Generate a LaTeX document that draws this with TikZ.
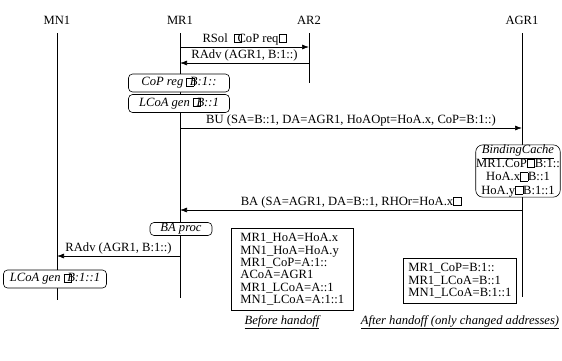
\documentclass[tikz,border=0pt]{standalone}
\usepackage{fontspec}
\setmainfont{Liberation Serif}
\usetikzlibrary{positioning,arrows.meta}
\newcommand{\gapbox}{{\fboxsep0pt\fboxrule0.5pt\fbox{\rule{0pt}{0.62em}\hspace{0.55em}}}}
\newcommand{\ul}[1]{\underline{#1}}

\begin{document}
\begin{tikzpicture}[x=1pt,y=-1pt,
  every node/.style={font=\fontsize{12.6}{12.6}\selectfont,inner sep=1pt},
  entity/.style={anchor=base},
  life/.style={line width=0.7pt},
  msg/.style={line width=0.7pt,-{Latex[length=7pt,width=5pt]}},
  msglabel/.style={above,inner sep=1.5pt},
  action/.style={rectangle,rounded corners=4pt,draw,line width=0.6pt,fill=white,
                 font=\fontsize{12.6}{12.6}\selectfont\itshape,minimum height=18pt,inner sep=1pt},
  table/.style={rectangle,draw,line width=0.6pt,align=left,inner sep=5pt,
                font=\fontsize{12.6}{12.4}\selectfont},
  caption/.style={font=\fontsize{12.6}{12.6}\selectfont\itshape}
]
\useasboundingbox (0,0) rectangle (562,360);

% entities
\node[entity] (mn1)  at (57,24)  {MN1};
\node[entity] (mr1)  at (180,24) {MR1};
\node[entity] (ar2)  at (309,24) {AR2};
\node[entity] (agr1) at (522,24) {AGR1};

% lifelines
\coordinate (mn1top)  at (57,33);  \coordinate (mn1end)  at (57,300);
\coordinate (mr1top)  at (180,33); \coordinate (mr1end)  at (180,298);
\coordinate (ar2top)  at (309,33); \coordinate (ar2end)  at (309,83);
\coordinate (agr1top) at (522,33); \coordinate (agr1end) at (522,297);
\draw[life] (mn1top) -- (mn1end);
\draw[life] (mr1top) -- (mr1end);
\draw[life] (ar2top) -- (ar2end);
\draw[life] (agr1top) -- (agr1end);

% router solicitation / advertisement
\coordinate (rsolA) at (180,47);  \coordinate (rsolB) at (309,47);
\draw[msg] (rsolA) -- node[msglabel]{RSol \ \gapbox\kern-.35em CoP req\gapbox} (rsolB);
\coordinate (radvA) at (309,63);  \coordinate (radvB) at (180,63);
\draw[msg] (radvA) -- node[msglabel]{RAdv (AGR1, B:1::)} (radvB);

% actions at MR1
\node[action,minimum width=101pt] (copreg) at (179,83)  {CoP reg \gapbox\kern-.35em B:1::};
\node[action,minimum width=101pt] (lcoagen) at (179,103.5) {LCoA gen \gapbox\kern-.35em B::1};

% binding update
\coordinate (buA) at (180,128); \coordinate (buB) at (522,128);
\draw[msg] (buA) -- node[msglabel]{BU (SA=B::1, DA=AGR1, HoAOpt=HoA.x, CoP=B:1::)} (buB);

% binding cache
\node[action,font=\fontsize{12.6}{13.4}\selectfont,align=center,rounded corners=7pt,inner sep=0.3pt]
  (cache) at (518,171) {\textit{\ul{BindingCache}}\\MR1.CoP\gapbox B:1::\\HoA.x\gapbox B::1\\HoA.y\gapbox B:1::1};

% binding acknowledgement
\coordinate (baA) at (522,210); \coordinate (baB) at (180,210);
\draw[msg] (baA) -- node[msglabel]{BA (SA=AGR1, DA=B::1, RHOr=HoA.x\gapbox} (baB);
\node[action,minimum width=62pt,minimum height=13pt] (baproc) at (181,229) {BA proc};

% router advertisement to MN1
\coordinate (radv2A) at (180,256); \coordinate (radv2B) at (57,256);
\draw[msg] (radv2A) -- node[msglabel]{RAdv (AGR1, B:1::)} (radv2B);
\node[action,minimum width=103pt] (mnlcoa) at (55,279) {LCoA gen \gapbox\kern-.35em B:1::1};

% address tables
\node[table,anchor=north west,minimum width=122pt] (before) at (231,228)
  {MR1\_HoA=HoA.x\\MN1\_HoA=HoA.y\\MR1\_CoP=A:1::\\ACoA=AGR1\\MR1\_LCoA=A::1\\MN1\_LCoA=A:1::1};
\node[table,anchor=north west,minimum width=110pt] (after) at (403,258)
  {MR1\_CoP=B:1::\\MR1\_LCoA=B::1\\MN1\_LCoA=B:1::1};
\node[caption] (beforecap) at (282,322) {\ul{Before handoff}};
\node[caption] (aftercap) at (460,322) {\ul{After handoff (only changed addresses)}};
\end{tikzpicture}
\end{document}
